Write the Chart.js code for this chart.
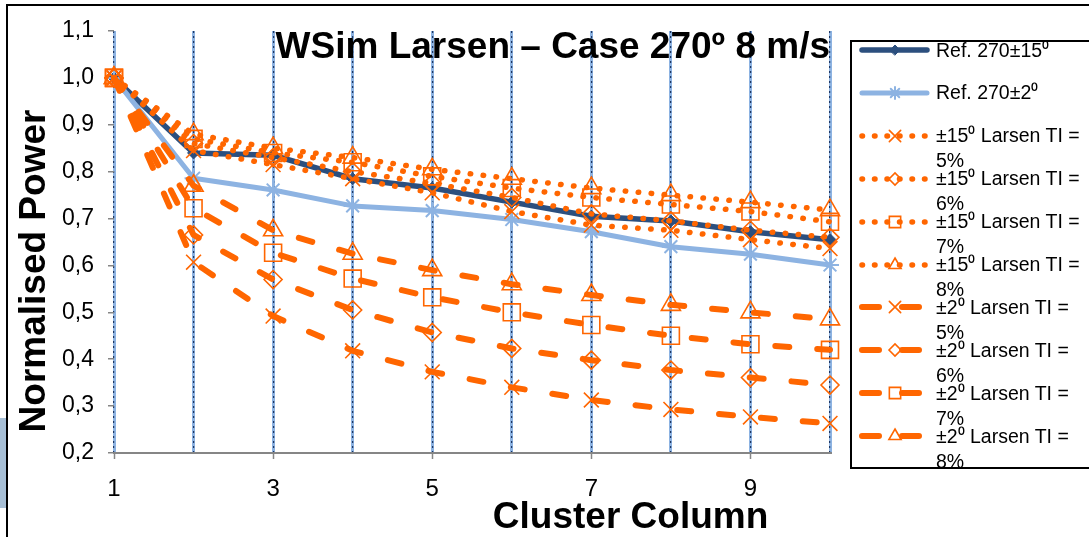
<!DOCTYPE html>
<html>
<head>
<meta charset="utf-8">
<title>WSim Larsen – Case 270º 8 m/s</title>
<script src="https://cdn.jsdelivr.net/npm/chart.js@4.4.1/dist/chart.umd.min.js"></script>
<style>
  html, body { margin: 0; padding: 0; background: #fff; overflow: hidden; }
  #wrap { position: relative; width: 1089px; height: 537px; }
  #frameTop { position: absolute; left: 6px; top: 4px; width: 1083px; height: 2px; background: #000; }
  #frameLeft { position: absolute; left: 6px; top: 4px; width: 2px; height: 533px; background: #000; }
  #sideStrip { position: absolute; left: 0; top: 418px; width: 6px; height: 90px; background: #a7bfd6; }
  #legend { position: absolute; left: 850px; top: 40px; width: 260px; height: 425px; border: 2px solid #000; background: #fff; }
  .item { position: absolute; left: 0; width: 100%; }
  .item canvas { position: absolute; left: 6px; top: 0; }
  .item .txt { position: absolute; left: 84px; top: 0; white-space: nowrap; color: #000;
               font: 19.5px "Liberation Sans", Arial, sans-serif; line-height: 25px; }
</style>
</head>
<body>
<div id="wrap">
  <canvas id="chart"></canvas>
  <div id="frameTop"></div>
  <div id="frameLeft"></div>
  <div id="sideStrip"></div>
  <div id="legend"></div>
</div>
<script>
// cluster columns along the row
const columns = [1, 2, 3, 4, 5, 6, 7, 8, 9, 10];

// reference measurements
const ref15 = [1.0, 0.840, 0.835, 0.785, 0.765, 0.735, 0.705, 0.695, 0.672, 0.655];
const ref2  = [1.0, 0.786, 0.761, 0.727, 0.717, 0.698, 0.672, 0.640, 0.624, 0.601];

// Larsen, ±15º sector
const larsen15ti5 = [1.0, 0.845, 0.815, 0.785, 0.755, 0.715, 0.686, 0.675, 0.655, 0.636];
const larsen15ti6 = [1.0, 0.860, 0.830, 0.800, 0.775, 0.745, 0.710, 0.695, 0.675, 0.660];
const larsen15ti7 = [1.0, 0.870, 0.840, 0.820, 0.790, 0.765, 0.745, 0.730, 0.715, 0.693];
const larsen15ti8 = [1.0, 0.880, 0.850, 0.830, 0.805, 0.785, 0.765, 0.750, 0.735, 0.718];

// Larsen, ±2º sector
const larsen2ti5 = [1.0, 0.607, 0.492, 0.418, 0.373, 0.340, 0.313, 0.293, 0.277, 0.263];
const larsen2ti6 = [1.0, 0.665, 0.570, 0.505, 0.457, 0.423, 0.398, 0.377, 0.361, 0.345];
const larsen2ti7 = [1.0, 0.722, 0.627, 0.572, 0.532, 0.500, 0.473, 0.450, 0.432, 0.420];
const larsen2ti8 = [1.0, 0.770, 0.675, 0.625, 0.590, 0.560, 0.537, 0.516, 0.500, 0.485];

const seriesLabels = [
    ["Ref. 270±15⁰"],
    ["Ref. 270±2⁰"],
    ["±15⁰ Larsen TI =", "5%"],
    ["±15⁰ Larsen TI =", "6%"],
    ["±15⁰ Larsen TI =", "7%"],
    ["±15⁰ Larsen TI =", "8%"],
    ["±2⁰ Larsen TI =", "5%"],
    ["±2⁰ Larsen TI =", "6%"],
    ["±2⁰ Larsen TI =", "7%"],
    ["±2⁰ Larsen TI =", "8%"],
];

const NAVY = "#2C4F7E";
const SKY = "#8DB3E2";
const ORANGE = "#FF6600";
const HOLLOW = "rgba(0,0,0,0)";

const DOTS = { width: 5.5, dash: [0.5, 12.5], sampleDash: [0.5, 12] };
const DASHES = { width: 6, dash: [14, 28], sampleDash: [17, 23] };

const seriesStyles = [
    { values: ref15, color: NAVY, width: 5.5, dash: [], sampleDash: [], marker: "rectRot", radius: 6, fill: NAVY, markerWidth: 1, legendRadius: 5 },
    { values: ref2, color: SKY, width: 5, dash: [], sampleDash: [], marker: "star", radius: 9, fill: SKY, markerWidth: 2, legendRadius: 6 },
    { values: larsen15ti5, color: ORANGE, ...DOTS, marker: "crossRot", radius: 10.5, legendRadius: 8 },
    { values: larsen15ti6, color: ORANGE, ...DOTS, marker: "rectRot", radius: 9, legendRadius: 6 },
    { values: larsen15ti7, color: ORANGE, ...DOTS, marker: "rect", radius: 12, legendRadius: 8 },
    { values: larsen15ti8, color: ORANGE, ...DOTS, marker: "triangle", radius: 11, legendRadius: 7 },
    { values: larsen2ti5, color: ORANGE, ...DASHES, marker: "crossRot", radius: 10.5, legendRadius: 8 },
    { values: larsen2ti6, color: ORANGE, ...DASHES, marker: "rectRot", radius: 9, legendRadius: 6 },
    { values: larsen2ti7, color: ORANGE, ...DASHES, marker: "rect", radius: 12, legendRadius: 8 },
    { values: larsen2ti8, color: ORANGE, ...DASHES, marker: "triangle", radius: 11, legendRadius: 7 },
];

function toPoints(values) {
    return values.map((v, i) => ({ x: columns[i], y: v }));
}

const datasets = seriesStyles.map((s, i) => ({
    label: seriesLabels[i].join(" "),
    data: toPoints(s.values),
    borderColor: s.color,
    borderWidth: s.width,
    borderDash: s.dash,
    borderCapStyle: "round",
    borderJoinStyle: "round",
    tension: 0,
    pointStyle: s.marker,
    pointRadius: s.radius,
    pointHoverRadius: s.radius,
    pointBorderColor: s.color,
    pointBackgroundColor: s.fill || HOLLOW,
    pointBorderWidth: s.markerWidth || 1.6,
    clip: false,
    order: seriesStyles.length - i, // later series on top
}));

Chart.defaults.font.family = "'Liberation Sans', Arial, sans-serif";
Chart.defaults.color = "#000";

const GRAY = "#868686";

new Chart(document.getElementById("chart"), {
    type: "line",
    data: { datasets: datasets },
    options: {
        responsive: true,
        maintainAspectRatio: false,
        animation: false,
        events: [],
        layout: { padding: { left: 13, right: 259, top: 0, bottom: 0 } },
        scales: {
            x: {
                type: "linear",
                min: 1,
                max: 10,
                afterFit: (scale) => { scale.height = 84; },
                ticks: {
                    stepSize: 1,
                    autoSkip: false,
                    maxRotation: 0,
                    padding: 16,
                    font: { size: 24 },
                    callback: (v) => (v % 2 === 1 ? String(v) : ""),
                },
                grid: {
                    color: SKY,
                    lineWidth: 3,
                    tickLength: 6,
                    tickWidth: 1.5,
                    tickColor: (ctx) => (ctx.tick && ctx.tick.value % 2 === 1 ? GRAY : HOLLOW),
                },
                border: { color: GRAY, width: 2 },
                title: {
                    display: true,
                    text: "Cluster Column      ",
                    align: "end",
                    font: { size: 37, weight: "bold", lineHeight: 1.05 },
                    padding: 0,
                },
            },
            // second layer of the column gridlines: dark dots over the light blue
            xDots: {
                type: "linear",
                position: "bottom",
                min: 1,
                max: 10,
                afterFit: (scale) => { scale.height = 0; },
                ticks: { display: false, stepSize: 1 },
                grid: { color: "#1F3864", lineWidth: 1.2, drawTicks: false },
                border: { display: false, dash: [2, 3] },
            },
            y: {
                min: 0.2,
                max: 1.1,
                afterFit: (scale) => { scale.width = 101; },
                ticks: {
                    stepSize: 0.1,
                    padding: 14,
                    font: { size: 23 },
                    callback: (v) => Number(v).toFixed(1).replace(".", ","),
                },
                grid: { drawOnChartArea: false, color: GRAY, lineWidth: 1.5, tickLength: 6 },
                border: { display: false },
                title: {
                    display: true,
                    text: "  Normalised Power",
                    align: "start",
                    font: { size: 37, weight: "bold", lineHeight: 1.2 },
                    padding: 0,
                },
            },
        },
        plugins: {
            legend: { display: false },
            tooltip: { enabled: false },
            title: {
                display: true,
                text: "WSim Larsen – Case 270º 8 m/s",
                align: "end",
                fullSize: false,
                color: "#000",
                font: { size: 37, weight: "bold", lineHeight: 1.2 },
                padding: { top: 26, bottom: -39.4 },
            },
        },
    },
});

// legend box on the right: line sample with marker, then the wrapped label
function drawSample(canvas, s) {
    const ctx = canvas.getContext("2d");
    ctx.lineCap = "round";
    ctx.strokeStyle = s.color;
    ctx.lineWidth = s.width;
    ctx.setLineDash(s.sampleDash);
    ctx.beginPath();
    ctx.moveTo(4, 12);
    ctx.lineTo(69, 12);
    ctx.stroke();
    ctx.setLineDash([]);
    ctx.lineWidth = s.markerWidth || 1.6;
    ctx.fillStyle = s.fill || HOLLOW;
    ctx.strokeStyle = s.color;
    if (Chart.helpers && Chart.helpers.drawPoint) {
        Chart.helpers.drawPoint(ctx, {
            pointStyle: s.marker,
            rotation: 0,
            radius: s.legendRadius,
            borderWidth: s.markerWidth || 1.6,
        }, 37, 12);
    }
}

const legendBox = document.getElementById("legend");
seriesStyles.forEach((s, i) => {
    const centre = 8 + i * 42.9;
    const item = document.createElement("div");
    item.className = "item";
    item.style.top = (centre - 12) + "px";
    const sample = document.createElement("canvas");
    sample.width = 76;
    sample.height = 24;
    drawSample(sample, s);
    const txt = document.createElement("div");
    txt.className = "txt";
    txt.style.top = "-0.5px";
    txt.innerHTML = seriesLabels[i].join("<br>");
    item.appendChild(sample);
    item.appendChild(txt);
    legendBox.appendChild(item);
});
</script>
</body>
</html>
